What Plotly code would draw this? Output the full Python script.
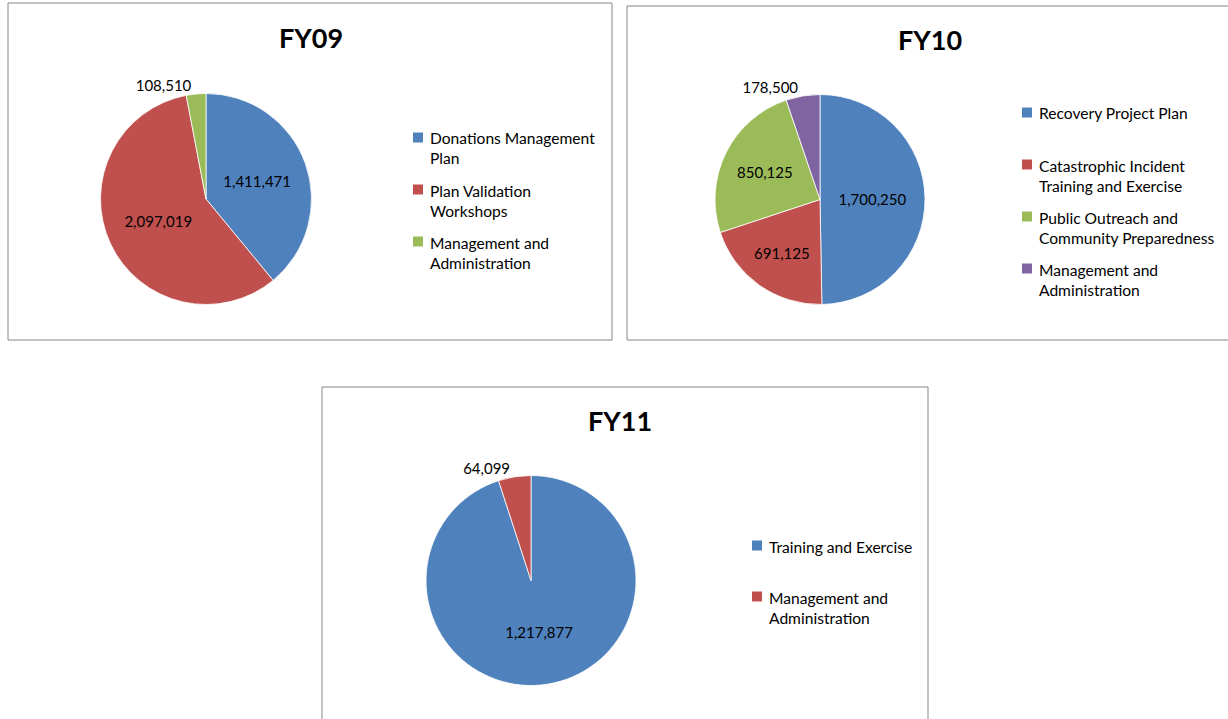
import plotly.graph_objects as go

W, H = 1228, 719

# ---------------- data ----------------
fy09_labels = ["Donations Management<br>Plan", "Plan Validation<br>Workshops", "Management and<br>Administration"]
fy09_values = [1411471, 2097019, 108510]

fy10_labels = ["Recovery Project Plan", "Catastrophic Incident<br>Training and Exercise",
               "Public Outreach and<br>Community Preparedness", "Management and<br>Administration"]
fy10_values = [1700250, 691125, 850125, 178500]

fy11_labels = ["Training and Exercise", "Management and<br>Administration"]
fy11_values = [1217877, 64099]

titles = ["FY09", "FY10", "FY11"]

# ---------------- style ----------------
C_BLUE, C_RED, C_GREEN, C_PURPLE = "#4F81BD", "#C0504D", "#9BBB59", "#8064A2"
colors = [C_BLUE, C_RED, C_GREEN, C_PURPLE]
FONT = "Lato, Calibri, 'Open Sans', sans-serif"


def px(x):
    return x / W


def py(y):
    return 1 - y / H


panels = [
    dict(box=(8, 3, 612, 340), center=(206, 199), r=105.5, title=(311, 37),
         legend=(418, 137.5), gap=52, labels=fy09_labels, values=fy09_values,
         pos=["inside", "inside", "outside"]),
    dict(box=(627, 6, 1232, 340), center=(820, 199.5), r=105, title=(930, 40),
         legend=(1027, 112.5), gap=52, labels=fy10_labels, values=fy10_values,
         pos=["inside", "inside", "inside", "outside"]),
    dict(box=(322, 387, 928, 723), center=(531, 580.5), r=105, title=(620, 420),
         legend=(757, 545.5), gap=51, labels=fy11_labels, values=fy11_values,
         pos=["inside", "outside"]),
]

fig = go.Figure()
shapes = []
annotations = []

for i, p in enumerate(panels):
    cx, cy = p["center"]
    r = p["r"]
    n = len(p["values"])
    fig.add_trace(go.Pie(
        labels=[l.replace("<br>", " ") for l in p["labels"]],
        values=p["values"],
        sort=False,
        direction="clockwise",
        rotation=0,
        marker=dict(colors=colors[:n], line=dict(color="white", width=0.8)),
        texttemplate="%{value:,}",
        textposition=p["pos"],
        insidetextorientation="horizontal",
        textfont=dict(family=FONT, size=15, color="black"),
        domain=dict(x=[px(cx - r), px(cx + r)], y=[py(cy + r), py(cy - r)]),
        hoverinfo="label+value",
        showlegend=False,
    ))
    x0, y0, x1, y1 = p["box"]
    shapes.append(dict(type="rect", xref="paper", yref="paper",
                       x0=px(x0), x1=px(x1), y0=py(y1), y1=py(y0),
                       line=dict(color="#868686", width=1), fillcolor="rgba(0,0,0,0)", layer="below"))
    tx, ty = p["title"]
    annotations.append(dict(x=px(tx), y=py(ty), xref="paper", yref="paper",
                            text="<b>%s</b>" % titles[i], showarrow=False,
                            font=dict(family=FONT, size=27, color="black"),
                            xanchor="center", yanchor="middle"))
    # legend items
    lx, ly = p["legend"]
    for k, lab in enumerate(p["labels"]):
        yy = ly + k * p["gap"]
        shapes.append(dict(type="rect", xref="paper", yref="paper",
                           x0=px(lx - 5), x1=px(lx + 5), y0=py(yy + 5), y1=py(yy - 5),
                           line=dict(width=0), fillcolor=colors[k]))
        annotations.append(dict(x=px(lx + 10), y=py(yy - 10), xref="paper", yref="paper",
                                text=lab, showarrow=False, align="left",
                                font=dict(family=FONT, size=15.6, color="black"),
                                xanchor="left", yanchor="top"))

fig.update_layout(
    width=W, height=H,
    margin=dict(l=0, r=0, t=0, b=0),
    paper_bgcolor="white", plot_bgcolor="white",
    shapes=shapes, annotations=annotations,
    showlegend=False,
)

fig.write_html("out.html", config={"displayModeBar": False},
               post_script="document.body.style.margin='0';document.body.style.overflow='hidden';")
